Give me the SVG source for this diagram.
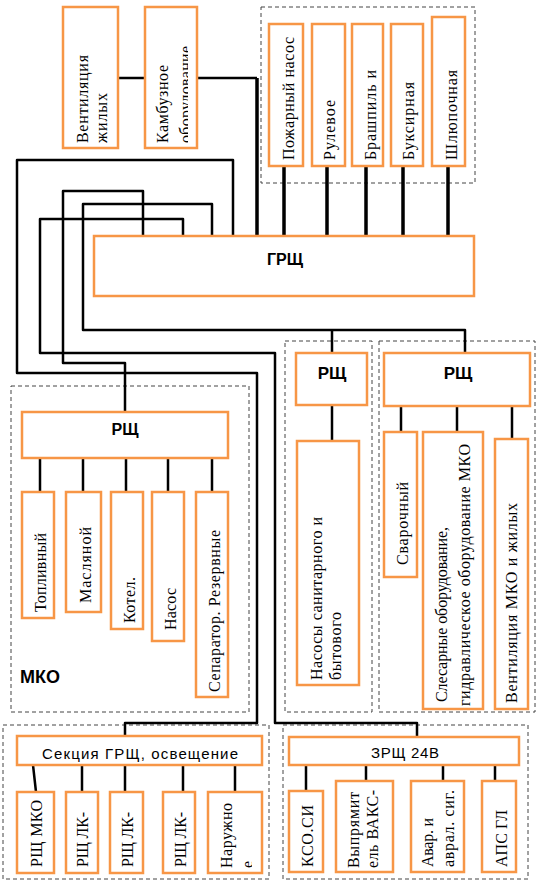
<svg xmlns="http://www.w3.org/2000/svg" width="537" height="882" viewBox="0 0 537 882">
<style>
.box{fill:#fff;stroke:#F79646;stroke-width:2.5}
.grp{fill:none;stroke:#444;stroke-width:1;stroke-dasharray:4 3}
.w{fill:none;stroke:#000;stroke-width:2.5;stroke-linejoin:round}
.wt{fill:none;stroke:#000;stroke-width:3.5}
.t{font-family:"Liberation Serif","Times New Roman",serif;font-size:16px;fill:#000}
.b{font-family:"Liberation Sans",Arial,sans-serif;font-weight:bold;font-size:16px;text-anchor:middle;fill:#000}
.s{font-family:"Liberation Sans",Arial,sans-serif;font-size:15px;text-anchor:middle;fill:#000}
</style>
<defs>
<clipPath id="ck"><rect x="170" y="30" width="18" height="118"/></clipPath>
<clipPath id="cn"><rect x="244" y="856" width="8" height="14"/></clipPath>
</defs>
<rect width="537" height="882" fill="#fff"/>
<g id="groups">
<rect class="grp" x="261" y="7" width="214" height="176"/>
<rect class="grp" x="11" y="386" width="238" height="326"/>
<rect class="grp" x="285" y="341" width="87" height="371"/>
<rect class="grp" x="379" y="341" width="156" height="371"/>
<rect class="grp" x="3" y="725" width="266" height="154"/>
<rect class="grp" x="283" y="725" width="245" height="154"/>
</g>
<g id="connectors">
<path class="w" d="M118 78H145M197 78H257"/>
<path class="wt" d="M257 78V236M284 166V236M327 166V236M366 166V236M403 166V236M448 166V236"/>
<path class="w" d="M233 236V160H17V373H257V723H125V736"/>
<path class="w" d="M183 236V219H40V353H275V723H417V737"/>
<path class="w" d="M143 236V191H63V363H125V412"/>
<path class="w" d="M212 236V204H83V330H465V353M332 330V353"/>
<path class="w" d="M40 458V492M83 458V492M126 458V492M168 458V492M212 458V492"/>
<path class="w" d="M332 405V441"/>
<path class="w" d="M401 406V432M457 406V432M512 406V439"/>
<path class="w" d="M33 765L36 792M82 765V792M125 765V792M183 765V792M235 765V792"/>
<path class="w" d="M306 765V791M366 765V781M443 765V781M495 765V781"/>
</g>
<g id="vent"><rect class="box" x="63" y="7" width="55" height="141"/>
<text class="t" transform="translate(88,143) rotate(-90)" textLength="88">Вентиляция</text>
<text class="t" transform="translate(107,143) rotate(-90)" textLength="50">жилых</text></g>
<g id="kamb"><rect class="box" x="145" y="7" width="52" height="141"/>
<text class="t" transform="translate(168,143) rotate(-90)" textLength="78">Камбузное</text>
<g clip-path="url(#ck)"><text class="t" transform="translate(191,143) rotate(-90)" textLength="97">оборудование</text></g></g>
<g id="pozh"><rect class="box" x="269" y="24" width="34" height="142"/>
<text class="t" transform="translate(294,160) rotate(-90)" textLength="123">Пожарный насос</text></g>
<g id="rul"><rect class="box" x="312" y="24" width="33" height="142"/>
<text class="t" transform="translate(335,160) rotate(-90)" textLength="60">Рулевое</text></g>
<g id="brash"><rect class="box" x="352" y="24" width="31" height="142"/>
<text class="t" transform="translate(376,160) rotate(-90)" textLength="90">Брашпиль и</text></g>
<g id="buks"><rect class="box" x="391" y="24" width="32" height="142"/>
<text class="t" transform="translate(414,160) rotate(-90)" textLength="78">Буксирная</text></g>
<g id="shlup"><rect class="box" x="432" y="17" width="33" height="149"/>
<text class="t" transform="translate(457,160) rotate(-90)" textLength="90">Шлюпочная</text></g>
<g id="grsh"><rect class="box" x="94" y="236" width="380" height="60"/>
<text class="b" x="285" y="265">ГРЩ</text></g>
<g id="mko-rsh"><rect class="box" x="22" y="412" width="206" height="46"/>
<text class="b" x="125" y="435">РЩ</text></g>
<g id="topl"><rect class="box" x="22" y="492" width="32" height="126"/>
<text class="t" transform="translate(46,612) rotate(-90)" textLength="79">Топливный</text></g>
<g id="masl"><rect class="box" x="66" y="492" width="35" height="120"/>
<text class="t" transform="translate(91,603) rotate(-90)" textLength="76">Масляной</text></g>
<g id="kotel"><rect class="box" x="111" y="492" width="32" height="137"/>
<text class="t" transform="translate(135,623) rotate(-90)" textLength="46">Котел.</text></g>
<g id="nasos"><rect class="box" x="152" y="492" width="32" height="149"/>
<text class="t" transform="translate(176,630) rotate(-90)" textLength="42">Насос</text></g>
<g id="separ"><rect class="box" x="196" y="492" width="32" height="205"/>
<text class="t" transform="translate(220,692) rotate(-90)" textLength="162">Сепаратор. Резервные</text></g>
<text id="mko-label" x="20" y="683" style="font-family:'Liberation Sans',Arial,sans-serif;font-weight:bold;font-size:18px">МКО</text>
<g id="rsh2"><rect class="box" x="296" y="353" width="71" height="52"/>
<text class="b" x="332" y="379" style="font-size:17px">РЩ</text></g>
<g id="nasosy"><rect class="box" x="297" y="441" width="62" height="244"/>
<text class="t" transform="translate(322,680) rotate(-90)" textLength="163">Насосы санитарного и</text>
<text class="t" transform="translate(341,680) rotate(-90)" textLength="68">бытового</text></g>
<g id="rsh3"><rect class="box" x="384" y="353" width="146" height="53"/>
<text class="b" x="458" y="379" style="font-size:17px">РЩ</text></g>
<g id="svar"><rect class="box" x="384" y="432" width="33" height="145"/>
<text class="t" transform="translate(408,565) rotate(-90)" textLength="83">Сварочный</text></g>
<g id="sles"><rect class="box" x="423" y="432" width="60" height="277"/>
<text class="t" transform="translate(447,702) rotate(-90)" textLength="175">Слесарные оборудование,</text>
<text class="t" transform="translate(470,706) rotate(-90)" textLength="262">гидравлическое оборудование МКО</text></g>
<g id="ventmko"><rect class="box" x="495" y="439" width="33" height="270"/>
<text class="t" transform="translate(517,703) rotate(-90)" textLength="200">Вентиляция МКО и жилых</text></g>
<g id="sek"><rect class="box" x="17" y="736" width="245" height="29"/>
<text class="s" x="140" y="759" textLength="196">Секция ГРЩ, освещение</text></g>
<g id="rshmko"><rect class="box" x="17" y="792" width="37" height="81"/>
<text class="t" transform="translate(42,867) rotate(-90)" textLength="67">РЩ МКО</text></g>
<g id="lk1"><rect class="box" x="66" y="792" width="32" height="81"/>
<text class="t" transform="translate(88,867) rotate(-90)" textLength="55">РЩ ЛК-</text></g>
<g id="lk2"><rect class="box" x="110" y="792" width="33" height="81"/>
<text class="t" transform="translate(133,867) rotate(-90)" textLength="55">РЩ ЛК-</text></g>
<g id="lk3"><rect class="box" x="163" y="792" width="32" height="81"/>
<text class="t" transform="translate(186,867) rotate(-90)" textLength="55">РЩ ЛК-</text></g>
<g id="naruzh"><rect class="box" x="208" y="792" width="54" height="81"/>
<text class="t" transform="translate(232,868) rotate(-90)" textLength="65">Наружно</text>
<g clip-path="url(#cn)"><text class="t" transform="translate(253,868) rotate(-90)">е</text></g></g>
<g id="zrsh"><rect class="box" x="289" y="737" width="230" height="28"/>
<text class="s" x="405" y="758" textLength="68">ЗРЩ 24В</text></g>
<g id="kso"><rect class="box" x="289" y="791" width="34" height="81"/>
<text class="t" transform="translate(313,867) rotate(-90)" textLength="62">КСО.СИ</text></g>
<g id="vypr"><rect class="box" x="336" y="781" width="57" height="91"/>
<text class="t" transform="translate(359,868) rotate(-90)" textLength="76">Выпрямит</text>
<text class="t" transform="translate(378,868) rotate(-90)" textLength="78">ель ВАКС-</text></g>
<g id="avar"><rect class="box" x="411" y="781" width="53" height="91"/>
<text class="t" transform="translate(433,867) rotate(-90)" textLength="49">Авар. и</text>
<text class="t" transform="translate(454,867) rotate(-90)" textLength="77">аврал. сиг.</text></g>
<g id="aps"><rect class="box" x="482" y="781" width="34" height="91"/>
<text class="t" transform="translate(507,867) rotate(-90)" textLength="57">АПС ГЛ</text></g>
</svg>
